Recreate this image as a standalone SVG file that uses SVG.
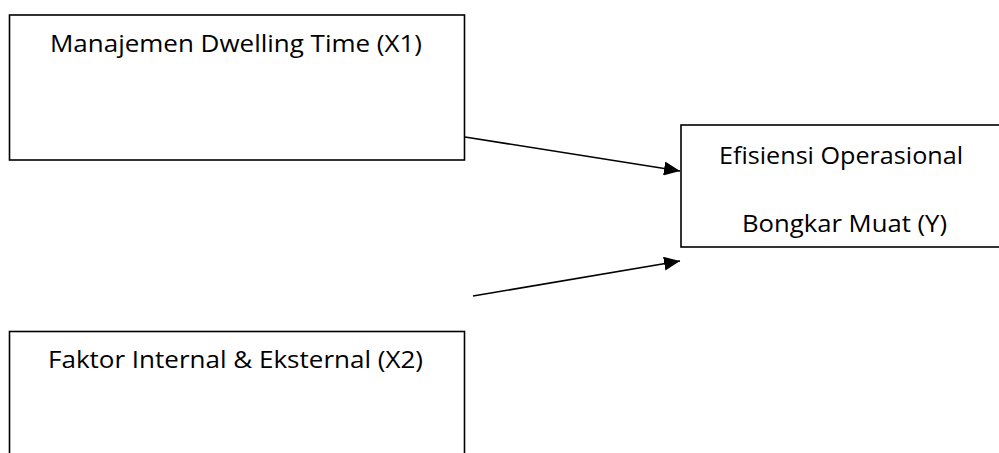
<svg xmlns="http://www.w3.org/2000/svg" width="999" height="453" viewBox="0 0 999 453">
<style>
.box{fill:#fff;stroke:#000;stroke-width:1.6}
.t{font-family:"Open Sans","Liberation Sans",sans-serif;font-size:24px;fill:#000}
.c{stroke:#000;stroke-width:1.6;fill:none}
</style>
<defs>
<marker id="ah" viewBox="0 0 16 14" refX="16" refY="7" markerWidth="16" markerHeight="14" markerUnits="userSpaceOnUse" orient="auto">
<path d="M0,0 L16,7 L0,14 z" fill="#000"/>
</marker>
</defs>
<rect width="999" height="453" fill="#fff"/>
<g id="connectors">
<line class="c" x1="465" y1="137" x2="680" y2="171" marker-end="url(#ah)"/>
<line class="c" x1="473" y1="296" x2="680" y2="261" marker-end="url(#ah)"/>
</g>
<g id="x1">
<rect class="box" x="9.5" y="15" width="455" height="145"/>
<text class="t" x="50" y="52" textLength="372" lengthAdjust="spacingAndGlyphs">Manajemen Dwelling Time (X1)</text>
</g>
<g id="y">
<rect class="box" x="681" y="125" width="330" height="122"/>
<text class="t" x="719" y="164" textLength="244" lengthAdjust="spacingAndGlyphs">Efisiensi Operasional</text>
<text class="t" x="742" y="232" textLength="205" lengthAdjust="spacingAndGlyphs">Bongkar Muat (Y)</text>
</g>
<g id="x2">
<rect class="box" x="9.5" y="331.5" width="455" height="140"/>
<text class="t" x="48" y="368" textLength="375" lengthAdjust="spacingAndGlyphs">Faktor Internal &amp; Eksternal (X2)</text>
</g>
</svg>
